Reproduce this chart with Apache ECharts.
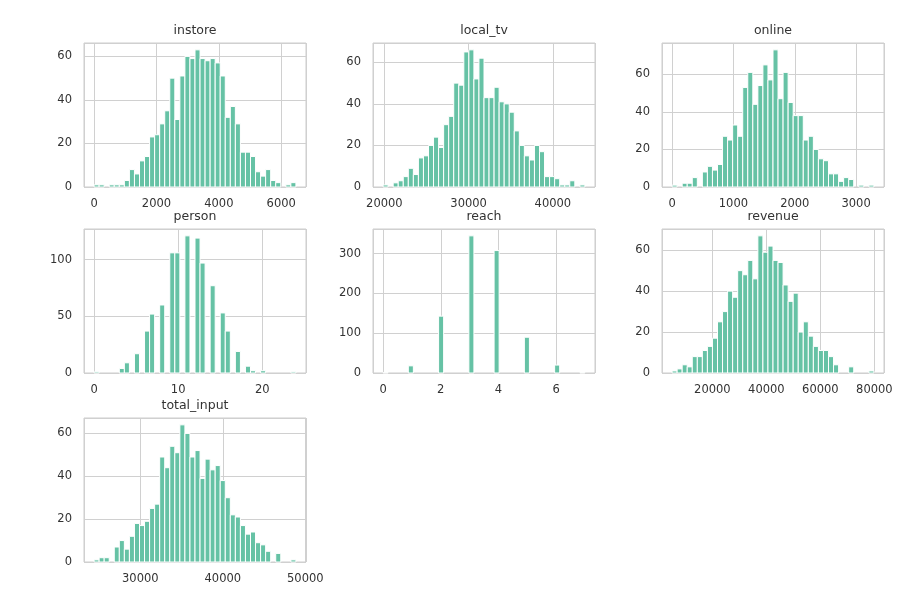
<!DOCTYPE html>
<html><head><meta charset="utf-8">
<script src="https://cdn.jsdelivr.net/npm/echarts@6/dist/echarts.min.js"></script>
<style>html,body{margin:0;padding:0;background:#fff}#c{width:898px;height:606px}</style>
</head><body><div id="c"></div>
<script>
// ---- data (40-bin histograms) ----
const titles = ['instore', 'local_tv', 'online', 'person', 'reach', 'revenue', 'total_input'];

const instoreRange = [0, 6470];
const instoreCounts = [1,1,0,1,1,1,3,8,6,12,14,23,24,29,35,50,31,51,60,59,63,59,58,59,57,51,32,37,29,16,16,14,7,5,8,3,2,0,1,2];

const localTvRange = [19850, 43800];
const localTvCounts = [1,0,2,3,5,9,6,14,15,20,24,19,30,34,50,49,65,66,52,62,43,43,48,41,40,36,27,20,15,13,20,17,5,5,4,1,1,3,0,1];

const onlineRange = [0, 3290];
const onlineCounts = [1,0,2,2,5,0,8,11,9,12,27,25,33,27,53,61,44,54,65,57,73,47,61,45,38,38,25,27,20,15,14,7,7,3,5,4,0,1,0,1];

const personRange = [0, 24];
const personCounts = [1,0,0,0,0,4,9,0,17,0,37,52,0,60,0,106,106,0,121,0,119,97,0,77,0,53,37,0,19,0,6,2,0,2,0,0,0,0,0,1];

const reachRange = [0, 7];
const reachCounts = [1,0,0,0,0,18,0,0,0,0,0,143,0,0,0,0,0,345,0,0,0,0,308,0,0,0,0,0,90,0,0,0,0,0,20,0,0,0,0,1];

const revenueRange = [5090, 79820];
const revenueCounts = [1,2,4,3,8,8,11,13,17,25,30,40,37,50,48,55,46,67,59,62,55,54,43,35,39,20,25,18,13,11,11,8,4,0,0,3,0,0,0,1];

const totalInputRange = [24400, 48860];
const totalInputCounts = [1,2,2,0,7,10,6,12,18,17,19,25,27,49,44,54,51,64,60,49,52,39,48,43,45,38,30,22,21,17,13,14,9,8,5,0,4,0,0,1];

const xTickSteps = [2000, 10000, 1000, 10, 2, 20000, 10000];
const yTickSteps = [20, 20, 20, 50, 100, 20, 20];

// ---- build ----
const ranges = [instoreRange, localTvRange, onlineRange, personRange, reachRange, revenueRange, totalInputRange];
const counts = [instoreCounts, localTvCounts, onlineCounts, personCounts, reachCounts, revenueCounts, totalInputCounts];

const colLeft = [84, 373, 662];
const rowTop = [43, 229, 418];
const gw = 222, gh = 144;
const FONT = 'DejaVu Sans';
const TXT = '#333333';
const GRIDC = '#d0d0d0';
const plain = v => String(Math.round(v * 1000) / 1000);

const grids = [], xAxes = [], yAxes = [], series = [], graphics = [];
titles.forEach((t, i) => {
  const r = Math.floor(i / 3), c = i % 3;
  const left = colLeft[c], top = rowTop[r];
  grids.push({left: left, top: top, width: gw, height: gh, show: true, borderColor: '#cccccc', borderWidth: 1, backgroundColor: '#ffffff'});
  const [lo, hi] = ranges[i];
  const span = hi - lo;
  const n = counts[i].length;
  const bw = span / n;
  const data = counts[i].map((v, k) => [lo + k * bw, lo + (k + 1) * bw, v]);
  const maxC = Math.max.apply(null, counts[i]);
  xAxes.push({
    gridIndex: i, type: 'value', min: lo - 0.05 * span, max: hi + 0.05 * span,
    minInterval: xTickSteps[i], maxInterval: xTickSteps[i],
    axisLine: {show: false}, axisTick: {show: false},
    splitLine: {show: true, lineStyle: {color: GRIDC, width: 1}},
    axisLabel: {showMinLabel: false, showMaxLabel: false, hideOverlap: false, color: TXT, fontFamily: FONT, fontSize: 11.5, margin: 11, formatter: plain}
  });
  yAxes.push({
    gridIndex: i, type: 'value', min: 0, max: maxC * 1.05,
    minInterval: yTickSteps[i], maxInterval: yTickSteps[i],
    axisLine: {show: false}, axisTick: {show: false},
    splitLine: {show: true, lineStyle: {color: GRIDC, width: 1}},
    axisLabel: {showMaxLabel: false, hideOverlap: false, color: TXT, fontFamily: FONT, fontSize: 11.5, margin: 12, formatter: plain}
  });
  series.push({
    type: 'custom', xAxisIndex: i, yAxisIndex: i, data: data,
    encode: {x: [0, 1], y: 2}, silent: true,
    renderItem: function (params, api) {
      const v = api.value(2);
      if (!v) return null;
      const p0 = api.coord([api.value(0), v]);
      const p1 = api.coord([api.value(1), 0]);
      return {type: 'rect', shape: {x: p0[0], y: p0[1], width: p1[0] - p0[0], height: p1[1] - p0[1]},
        style: {fill: '#66c2a5', stroke: '#ffffff', lineWidth: 1}};
    }
  });
  graphics.push({type: 'text', x: left + gw / 2, y: top - 12,
    style: {text: t, fill: TXT, font: '12.5px "' + FONT + '"', align: 'center', verticalAlign: 'middle'}});
});

const chart = echarts.init(document.getElementById('c'), null, {renderer: 'canvas'});
chart.setOption({
  animation: false,
  backgroundColor: '#ffffff',
  grid: grids, xAxis: xAxes, yAxis: yAxes, series: series,
  graphic: graphics
});
</script>
</body></html>
